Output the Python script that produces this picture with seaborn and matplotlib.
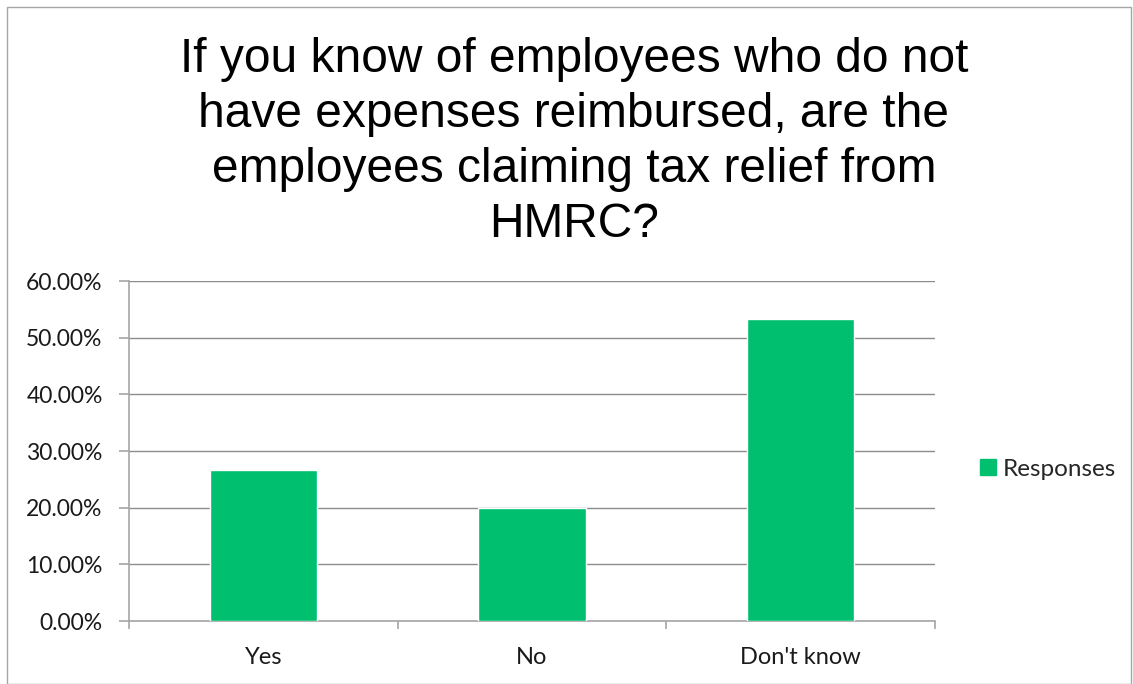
import matplotlib
matplotlib.use("Agg")
import matplotlib.pyplot as plt
from matplotlib.patches import Rectangle
from matplotlib.lines import Line2D
from matplotlib.ticker import FuncFormatter, MultipleLocator
import seaborn as sns
import pandas as pd

categories = ["Yes", "No", "Don't know"]
responses = [26.67, 20.00, 53.33]
series_name = "Responses"
title_lines = ["If you know of employees who do not",
               "have expenses reimbursed, are the",
               "employees claiming tax relief from",
               "HMRC?"]

bar_color = "#00C070"
axis_color = "#A6A6A6"
grid_color = "#8C8C8C"

sns.set_theme(style="white")
plt.rcParams["font.family"] = ["Lato", "DejaVu Sans"]

df = pd.DataFrame({"category": categories, "value": responses})

W, H = 1133, 684
fig = plt.figure(figsize=(W / 100, H / 100), dpi=100)
ax = fig.add_axes([129 / W, 1 - 621 / H, (935 - 129) / W, (621 - 281) / H])

sns.barplot(data=df, x="category", y="value", color=bar_color, width=0.4,
            saturation=1, ax=ax, zorder=3)

ax.set_xlim(-0.5, len(categories) - 0.5)
ax.set_ylim(0, 60)
ax.yaxis.set_major_locator(MultipleLocator(10))
ax.yaxis.set_major_formatter(FuncFormatter(lambda v, _: f"{v:.2f}%"))
ax.set_xlabel("")
ax.set_ylabel("")

ax.grid(axis="y", color=grid_color, linewidth=1.0, zorder=0)
ax.set_axisbelow(True)
for side in ["top", "right"]:
    ax.spines[side].set_visible(False)
for side in ["left", "bottom"]:
    ax.spines[side].set_color(axis_color)
    ax.spines[side].set_linewidth(1.2)

# category labels centered, tick marks between categories
ax.set_xticks(range(len(categories)))
ax.set_xticklabels(categories, fontsize=17, color="#1a1a1a")
ax.tick_params(axis="x", length=0, pad=19)
ax.set_xticks([i - 0.5 for i in range(len(categories) + 1)], minor=True)
ax.tick_params(axis="x", which="minor", length=6, width=1.2, color=axis_color,
               direction="out", bottom=True)
ax.tick_params(axis="y", length=7, width=1.2, color=axis_color, direction="out",
               left=True, labelsize=16.5, labelcolor="#1a1a1a", pad=12)

# centered title, one baseline per line
first_baseline, line_step = 72, 55
for i, line in enumerate(title_lines):
    fig.text(574 / W, 1 - (first_baseline + i * line_step) / H, line,
             ha="center", va="baseline", fontsize=34.5,
             family=["Liberation Sans", "DejaVu Sans"], color="#000000")

handle = Line2D([], [], marker="s", linestyle="none", markersize=11,
                markerfacecolor=bar_color, markeredgecolor=bar_color)
fig.legend([handle], [series_name], loc="center left",
           bbox_to_anchor=(954 / W, 1 - 469 / H), frameon=False,
           fontsize=17.5, handletextpad=0.1, handlelength=1.0)

fig.patches.append(Rectangle((7 / W, 0), 1 - 9 / W, 1 - 7 / H,
                             transform=fig.transFigure, fill=False,
                             edgecolor="#A6A6A6", linewidth=1.0))

fig.savefig("out.png", dpi=100, facecolor="white")
